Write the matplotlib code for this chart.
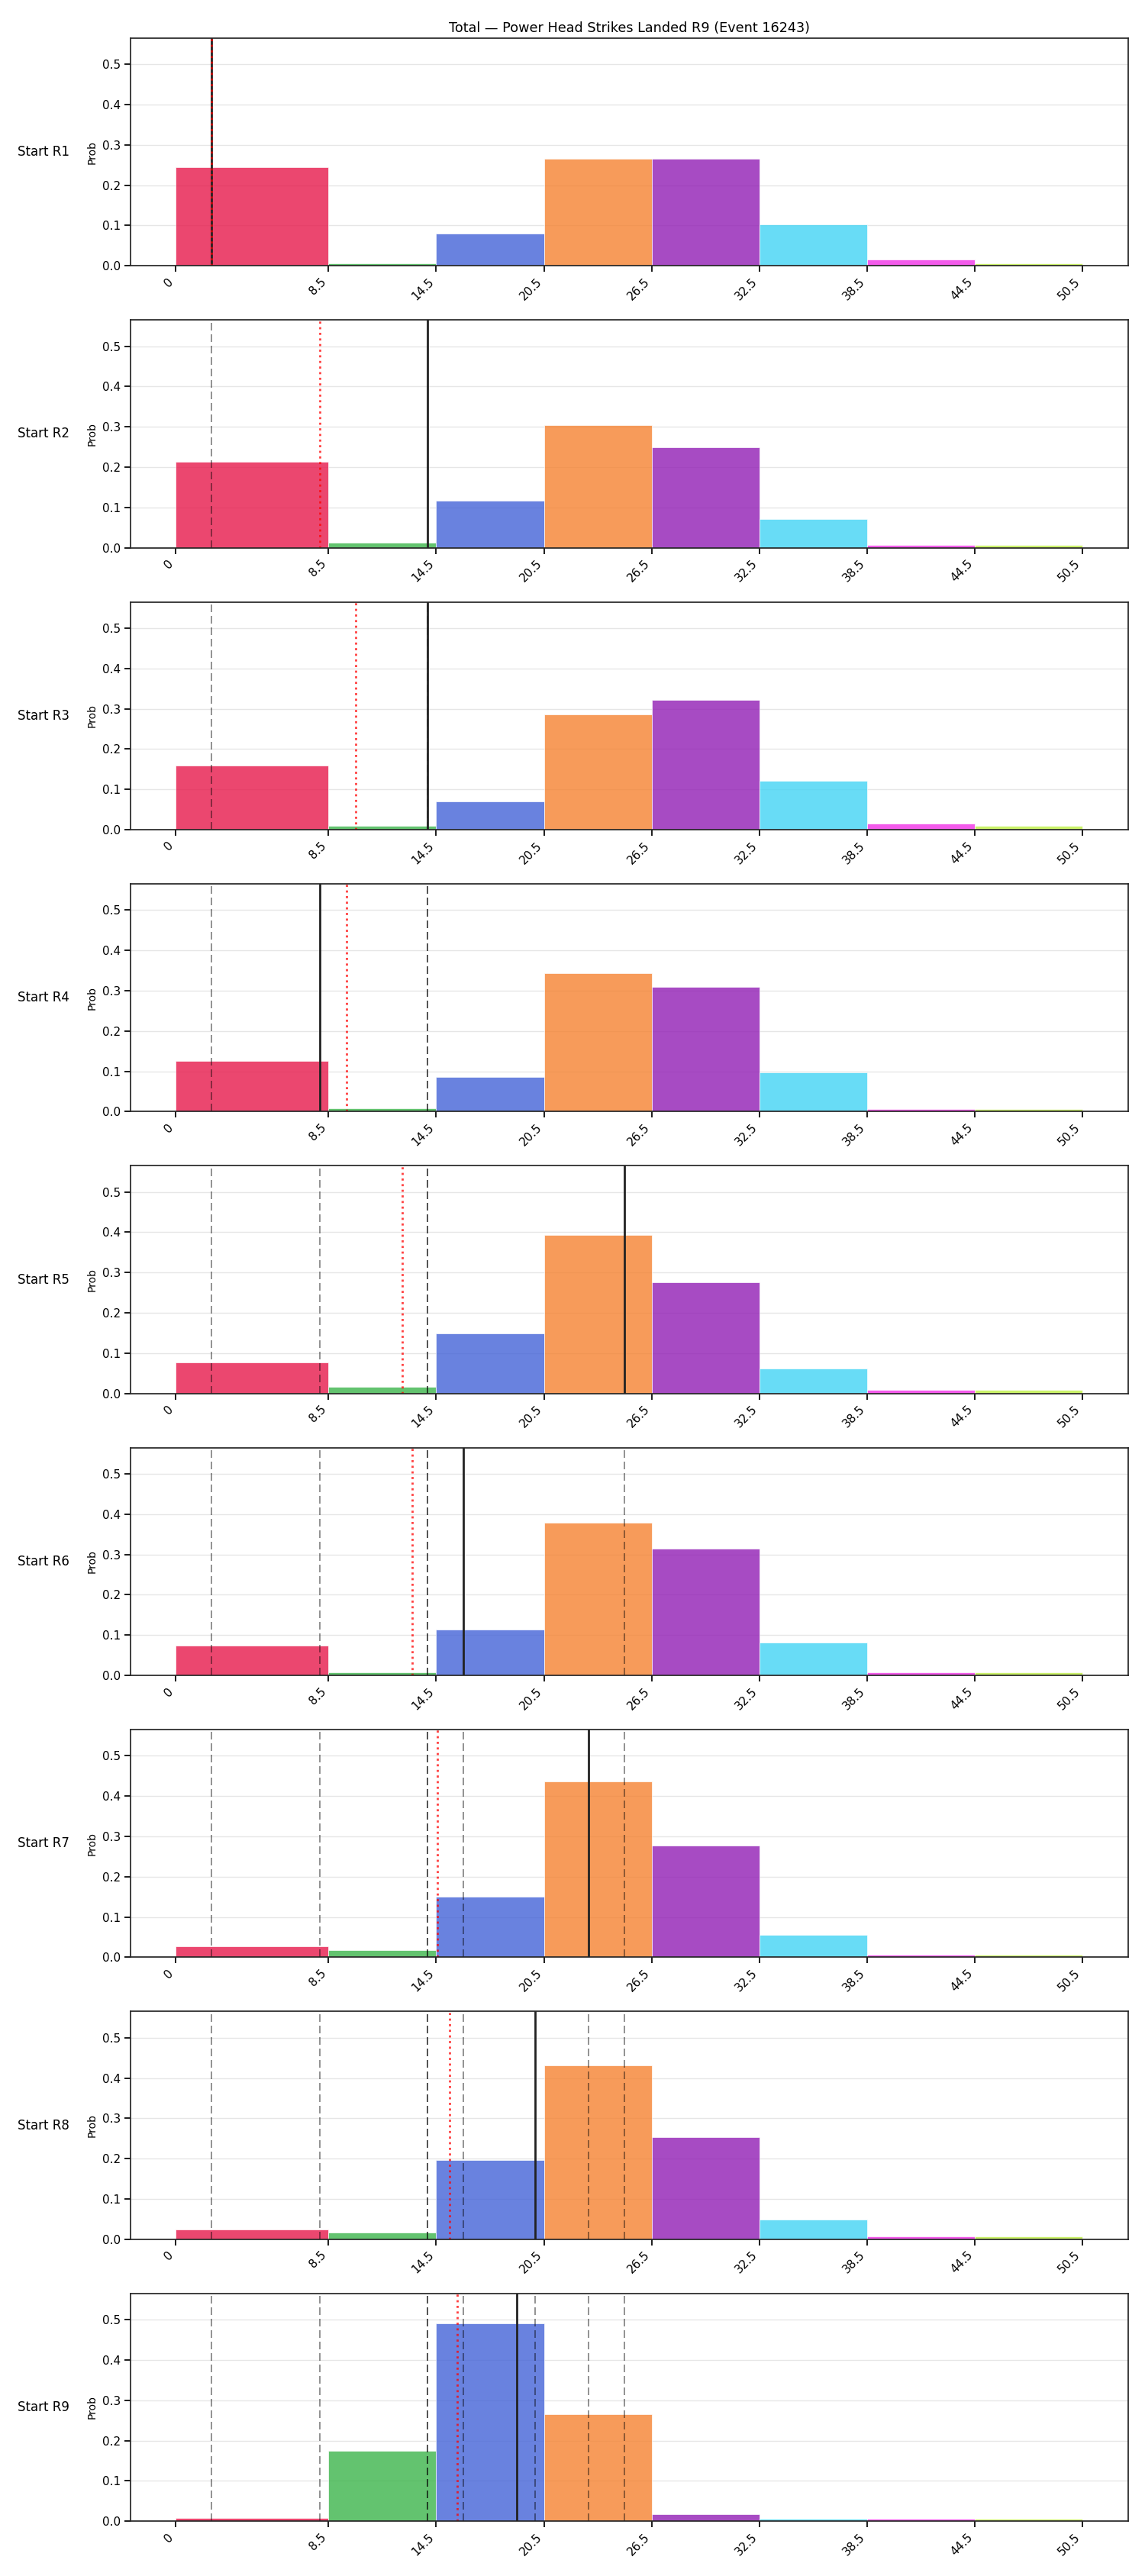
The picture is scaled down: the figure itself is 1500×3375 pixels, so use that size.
import numpy as np
import matplotlib
matplotlib.use("Agg")
import matplotlib.pyplot as plt

# bins of the total and their colours
bin_edges = [0, 8.5, 14.5, 20.5, 26.5, 32.5, 38.5, 44.5, 50.5]
bin_colors = ["#e6194b", "#3cb44b", "#4363d8", "#f58231",
              "#911eb4", "#42d4f4", "#f032e6", "#bfef45"]

rounds = ["R1", "R2", "R3", "R4", "R5", "R6", "R7", "R8", "R9"]

# probability of each bin, one row per starting round
probs = [
    [0.244, 0.007, 0.080, 0.265, 0.265, 0.102, 0.015, 0.007],
    [0.213, 0.013, 0.116, 0.305, 0.249, 0.072, 0.007, 0.007],
    [0.159, 0.009, 0.070, 0.286, 0.321, 0.122, 0.015, 0.009],
    [0.125, 0.009, 0.085, 0.343, 0.309, 0.098, 0.007, 0.007],
    [0.078, 0.017, 0.149, 0.393, 0.276, 0.061, 0.009, 0.009],
    [0.074, 0.007, 0.114, 0.379, 0.315, 0.081, 0.007, 0.007],
    [0.028, 0.017, 0.150, 0.436, 0.277, 0.056, 0.007, 0.007],
    [0.025, 0.017, 0.196, 0.431, 0.254, 0.049, 0.007, 0.007],
    [0.008, 0.174, 0.490, 0.266, 0.018, 0.006, 0.006, 0.006],
]

# value per round (solid line) and running mean (red dotted)
round_values = [2, 14, 14, 8, 25, 16, 23, 20, 19]
running_mean = [2.0, 8.0, 10.0, 9.5, 12.6, 13.17, 14.57, 15.25, 15.67]

tick_labels = ["0", "8.5", "14.5", "20.5", "26.5", "32.5", "38.5", "44.5", "50.5"]

plt.rcParams["axes.linewidth"] = 1.25
plt.rcParams["xtick.major.width"] = 1.25
plt.rcParams["ytick.major.width"] = 1.25
plt.rcParams["xtick.major.size"] = 6
plt.rcParams["ytick.major.size"] = 6
plt.rcParams["axes.edgecolor"] = "#262626"

fig, axes = plt.subplots(9, 1, figsize=(15, 33.75), dpi=100)
fig.subplots_adjust(left=0.114, right=0.985, top=0.9852, bottom=0.0213, hspace=0.238)

lefts = np.array(bin_edges[:-1])
widths = np.diff(bin_edges)

for i, ax in enumerate(axes):
    ax.set_axisbelow(True)
    ax.grid(axis="y", color="#e6e6e6", linewidth=1)
    ax.bar(lefts, probs[i], width=widths, align="edge", color=bin_colors,
           alpha=0.8, edgecolor="white", linewidth=0.6)
    for v in round_values[:i]:
        ax.axvline(v, color="k", alpha=0.5, linewidth=1.2, linestyle=(0, (6, 3)))
    ax.axvline(round_values[i], color="#222222", linewidth=2)
    ax.axvline(running_mean[i], color="red", alpha=0.75, linewidth=2, linestyle=":")

    ax.set_xlim(-2.525, 53.025)
    ax.set_ylim(0, 0.565)
    ax.set_yticks([0, 0.1, 0.2, 0.3, 0.4, 0.5])
    ax.set_yticklabels(["0.0", "0.1", "0.2", "0.3", "0.4", "0.5"], fontsize=11)
    ax.set_xticks(bin_edges)
    ax.set_xticklabels(tick_labels, rotation=45, ha="right", fontsize=11)
    ax.set_ylabel("Prob", fontsize=10)
    ax.text(-0.061, 0.5, "Start " + rounds[i], transform=ax.transAxes,
            ha="right", va="center", fontsize=12)

axes[0].set_title("Total \u2014 Power Head Strikes Landed R9 (Event 16243)", fontsize=12.7)

plt.savefig("out.png", dpi=100)
